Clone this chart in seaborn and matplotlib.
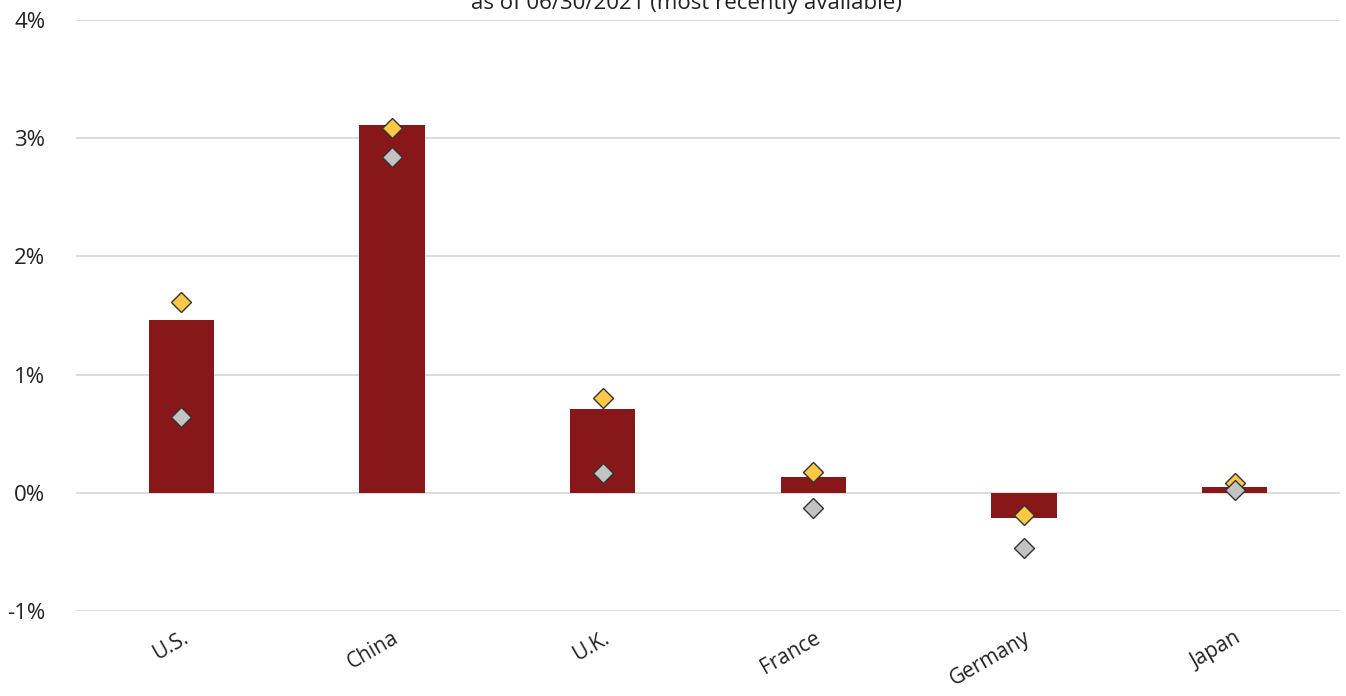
import matplotlib
matplotlib.use("Agg")
import matplotlib.pyplot as plt
import seaborn as sns
import pandas as pd
import numpy as np

countries = ["U.S.", "China", "U.K.", "France", "Germany", "Japan"]
bar_values = [1.46, 3.11, 0.71, 0.13, -0.21, 0.05]
yellow_values = [1.61, 3.09, 0.80, 0.18, -0.19, 0.08]
gray_values = [0.64, 2.84, 0.17, -0.13, -0.47, 0.02]
y_ticks = [-1, 0, 1, 2, 3, 4]
y_tick_labels = ["-1%", "0%", "1%", "2%", "3%", "4%"]
subtitle = "as of 06/30/2021 (most recently available)"

sns.set_theme(style="white")
plt.rcParams["font.family"] = ["Open Sans", "DejaVu Sans"]

fig = plt.figure(figsize=(13.46, 6.96), dpi=100)
ax = fig.add_axes([76/1346, 1 - 611/696, (1340-76)/1346, (611-20)/696])

df = pd.DataFrame({"country": countries, "value": bar_values})
sns.barplot(data=df, x="country", y="value", color="#881719", width=0.31,
            saturation=1, ax=ax, zorder=2)
for p in ax.patches:
    p.set_edgecolor("none")

x = np.arange(len(countries))
ax.plot(x, yellow_values, linestyle="none", marker="D", markersize=10,
        markerfacecolor="#FFC845", markeredgecolor="#333333", markeredgewidth=1, zorder=4)
ax.plot(x, gray_values, linestyle="none", marker="D", markersize=10,
        markerfacecolor="#C3C3C3", markeredgecolor="#333333", markeredgewidth=1, zorder=4)

ax.set_xlim(-0.5, len(countries) - 0.5)
ax.set_ylim(-1, 4)
ax.set_yticks(y_ticks)
ax.set_yticklabels(y_tick_labels, fontsize=16, color="#222222")
ax.yaxis.grid(True, color="#d9d9d9", linewidth=1.3, zorder=0)
ax.set_axisbelow(True)
for s in ax.spines.values():
    s.set_visible(False)
ax.set_xlabel("")
ax.set_ylabel("")
ax.tick_params(axis="y", length=0, pad=22)
ax.tick_params(axis="x", length=0, pad=12)
ax.set_xticks(x)
ax.set_xticklabels(countries, rotation=30, ha="right", rotation_mode="anchor",
                   fontsize=15, color="#222222")

fig.text(686/1346, 1 - 9/696, subtitle, ha="center", va="baseline", fontsize=16, color="#222222")

fig.savefig("out.png", dpi=100)
